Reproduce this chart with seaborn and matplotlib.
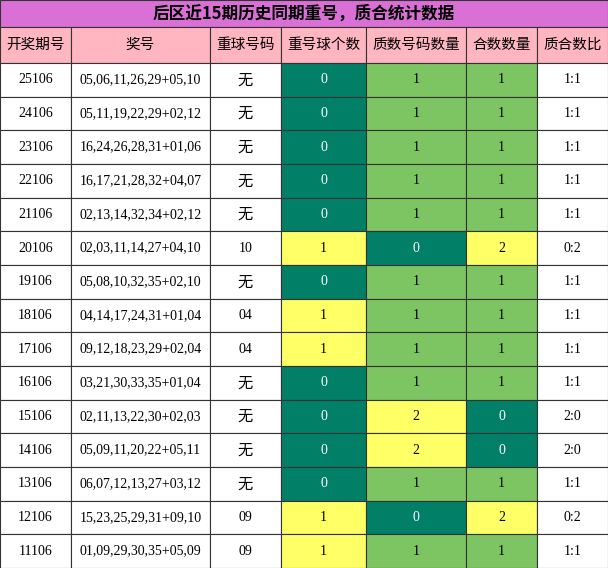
import matplotlib
matplotlib.use("Agg")
import matplotlib.pyplot as plt
from matplotlib.patches import Rectangle
import seaborn as sns

title = "后区近15期历史同期重号，质合统计数据"
headers = ["开奖期号", "奖号", "重球号码", "重号球个数", "质数号码数量", "合数数量", "质合数比"]
periods = ["25106","24106","23106","22106","21106","20106","19106","18106","17106","16106","15106","14106","13106","12106","11106"]
numbers = ["05,06,11,26,29+05,10","05,11,19,22,29+02,12","16,24,26,28,31+01,06","16,17,21,28,32+04,07",
           "02,13,14,32,34+02,12","02,03,11,14,27+04,10","05,08,10,32,35+02,10","04,14,17,24,31+01,04",
           "09,12,18,23,29+02,04","03,21,30,33,35+01,04","02,11,13,22,30+02,03","05,09,11,20,22+05,11",
           "06,07,12,13,27+03,12","15,23,25,29,31+09,10","01,09,29,30,35+05,09"]
repeat_nums = ["无","无","无","无","无","10","无","04","04","无","无","无","无","09","09"]
repeat_cnt = [0,0,0,0,0,1,0,1,1,0,0,0,0,1,1]
prime_cnt = [1,1,1,1,1,0,1,1,1,1,2,2,1,0,1]
comp_cnt = [1,1,1,1,1,2,1,1,1,1,0,0,1,2,1]
ratios = ["1:1","1:1","1:1","1:1","1:1","0:2","1:1","1:1","1:1","1:1","2:0","2:0","1:1","0:2","1:1"]

sns.set_theme(style="white")
plt.rcParams['font.family'] = ['Noto Sans CJK SC', 'DejaVu Sans']

W, H = 608, 568
fig = plt.figure(figsize=(W/100, H/100), dpi=100)
ax = fig.add_axes([0, 0, 1, 1])
ax.set_xlim(0, W); ax.set_ylim(H, 0); ax.axis("off")

edges = [0, 71, 210, 281, 366, 466, 537, 608]
title_h, head_bot = 27, 63
rh = (H - head_bot) / len(periods)
DG, LG, YL = "#018067", "#7dc462", "#ffff66"

def cell(x0, x1, y0, y1, fc, txt, color="black", size=10, fam=None, weight="normal"):
    ax.add_patch(Rectangle((x0, y0), x1 - x0, y1 - y0, facecolor=fc, edgecolor="#333333", lw=0.8))
    ax.text((x0 + x1) / 2, (y0 + y1) / 2, txt, ha="center", va="center", color=color,
            fontsize=size, family=fam or ['Liberation Serif', 'Noto Sans CJK SC'], weight=weight)

cell(0, W, 0, title_h, "#da70d6", title, size=12, fam=['Noto Sans CJK SC'], weight="bold")
for j, h in enumerate(headers):
    cell(edges[j], edges[j+1], title_h, head_bot, "#ffb6c1", h, size=10.5, fam=['Noto Sans CJK SC'])

def cnt_color(v, high):
    if v == 0:
        return (DG, "white") if high == "green0" else (DG, "white")
    return None

for i in range(len(periods)):
    y0 = head_bot + i * rh; y1 = y0 + rh
    cell(edges[0], edges[1], y0, y1, "white", periods[i])
    cell(edges[1], edges[2], y0, y1, "white", numbers[i])
    rn = repeat_nums[i]
    cell(edges[2], edges[3], y0, y1, "white", rn,
         fam=['Noto Sans CJK SC'] if rn == "无" else None, size=11 if rn == "无" else 10)
    r = repeat_cnt[i]
    cell(edges[3], edges[4], y0, y1, DG if r == 0 else YL, str(r), "white" if r == 0 else "black")
    p = prime_cnt[i]
    fc = DG if p == 0 else (LG if p == 1 else YL)
    cell(edges[4], edges[5], y0, y1, fc, str(p), "white" if p == 0 else "black")
    c = comp_cnt[i]
    fc = DG if c == 0 else (LG if c == 1 else YL)
    cell(edges[5], edges[6], y0, y1, fc, str(c), "white" if c == 0 else "black")
    cell(edges[6], edges[7], y0, y1, "white", ratios[i])

fig.savefig("out.png", dpi=100)
